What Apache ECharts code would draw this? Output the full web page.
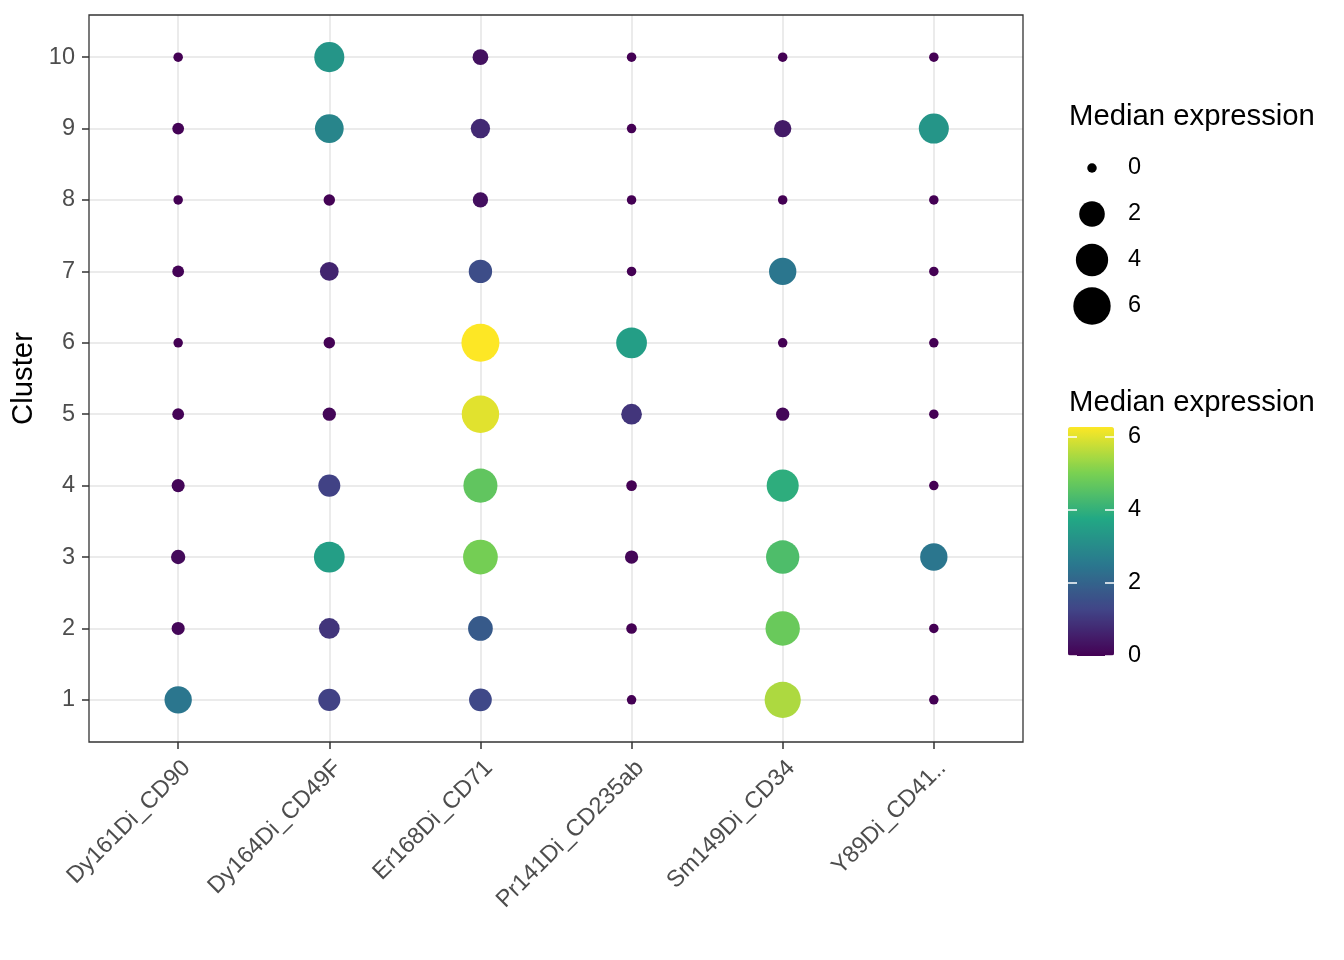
<!DOCTYPE html>
<html>
<head>
<meta charset="utf-8">
<script src="https://cdn.jsdelivr.net/npm/echarts@6/dist/echarts.min.js"></script>
<style>
html,body{margin:0;padding:0;background:#fff;}
#chart{width:1344px;height:960px;}
</style>
</head>
<body>
<div id="chart"></div>
<script>
// ---- data ----
const markers = ['Dy161Di_CD90', 'Dy164Di_CD49F', 'Er168Di_CD71', 'Pr141Di_CD235ab', 'Sm149Di_CD34', 'Y89Di_CD41..'];
const clusters = ['1', '2', '3', '4', '5', '6', '7', '8', '9', '10'];
// median expression per marker, clusters 1..10
const dy161 = [2.46, 0.10, 0.18, 0.10, 0.04, 0.00, 0.04, 0.00, 0.04, 0.00];
const dy164 = [1.21, 0.97, 3.49, 1.21, 0.11, 0.03, 0.66, 0.03, 2.86, 3.26];
const er168 = [1.35, 1.79, 4.93, 4.66, 6.00, 6.27, 1.48, 0.26, 0.75, 0.30];
const pr141 = [0.00, 0.01, 0.11, 0.01, 0.97, 3.49, 0.00, 0.00, 0.00, 0.00];
const sm149 = [5.50, 4.77, 4.39, 3.93, 0.11, 0.00, 2.46, 0.00, 0.47, 0.00];
const y89   = [0.00, 0.00, 2.46, 0.00, 0.00, 0.00, 0.00, 0.00, 3.26, 0.00];
const valueMax = 6.27;
const sizeBreaks = [0, 2, 4, 6];
const colorBreaks = [0, 2, 4, 6];
const viridisStops = ['#440154', '#414487', '#2A788E', '#22A884', '#7AD151', '#FDE725'];

const allSeries = [dy161, dy164, er168, pr141, sm149, y89];
const points = [];
allSeries.forEach((vals, i) => {
  vals.forEach((v, j) => points.push([i + 1, j + 1, v]));
});

const FONT = '"Liberation Sans", Arial, Helvetica, sans-serif';
const sizeOf = v => 9.5 + 28.5 * Math.sqrt(Math.max(v, 0) / valueMax);

const chart = echarts.init(document.getElementById('chart'), null, {renderer: 'canvas'});
chart.setOption({
  backgroundColor: '#ffffff',
  animation: false,
  textStyle: {fontFamily: FONT},
  grid: [
    {left: 89, top: 15, width: 934, height: 727, show: true, borderColor: '#333333', borderWidth: 1.3, backgroundColor: 'transparent', z: 3},
    {left: 1069, top: 145, width: 46, height: 184, show: false},
    {left: 1068, top: 427, width: 46, height: 229, show: false}
  ],
  xAxis: [
    {
      gridIndex: 0, type: 'value', min: 0.41, max: 6.59,
      axisLine: {show: false},
      axisTick: {show: true, length: 7, lineStyle: {color: '#333333', width: 1.5}, customValues: markers.map((m, i) => i + 1)},
      axisLabel: {
        customValues: markers.map((m, i) => i + 1),
        formatter: v => markers[Math.round(v) - 1] || '',
        rotate: 45, align: 'right', verticalAlign: 'top', margin: 14,
        color: '#4D4D4D', fontSize: 23.5, fontFamily: FONT
      },
      splitLine: {show: true, lineStyle: {color: '#EBEBEB', width: 2}}
    },
    {gridIndex: 1, type: 'category', data: ['k'], show: false},
    {gridIndex: 2, type: 'value', min: 0, max: 1, show: false}
  ],
  yAxis: [
    {
      gridIndex: 0, type: 'value', min: 0.41, max: 10.59,
      name: 'Cluster', nameLocation: 'middle', nameGap: 48, nameRotate: 90,
      nameTextStyle: {color: '#000000', fontSize: 29.3, fontFamily: FONT},
      axisLine: {show: false},
      axisTick: {show: true, length: 7, lineStyle: {color: '#333333', width: 1.5}, customValues: clusters.map((c, i) => i + 1)},
      axisLabel: {
        customValues: clusters.map((c, i) => i + 1),
        formatter: v => clusters[Math.round(v) - 1] || '',
        margin: 14, color: '#4D4D4D', fontSize: 23.5, fontFamily: FONT,
        padding: [2, 0, 0, 0]
      },
      splitLine: {show: true, lineStyle: {color: '#EBEBEB', width: 2}}
    },
    {
      gridIndex: 1, type: 'category', data: sizeBreaks.map(String), inverse: true, position: 'right',
      axisLine: {show: false}, axisTick: {show: false},
      axisLabel: {margin: 13, color: '#000000', fontSize: 23.5, fontFamily: FONT, align: 'left', padding: [2, 0, 0, 0]},
      splitLine: {show: false}
    },
    {
      gridIndex: 2, type: 'value', min: 0, max: valueMax, position: 'left', z: 10,
      axisLine: {show: false},
      axisTick: {show: true, inside: true, length: 9, lineStyle: {color: '#ffffff', width: 1.5}, customValues: colorBreaks},
      axisLabel: {show: false, customValues: colorBreaks},
      splitLine: {show: false}
    },
    {
      gridIndex: 2, type: 'value', min: 0, max: valueMax, position: 'right', z: 10,
      axisLine: {show: false},
      axisTick: {show: true, inside: true, length: 9, lineStyle: {color: '#ffffff', width: 1.5}, customValues: colorBreaks},
      axisLabel: {show: true, customValues: colorBreaks, margin: 14, color: '#000000', fontSize: 23.5, fontFamily: FONT, align: 'left', padding: [5, 0, 0, 0]},
      splitLine: {show: false}
    }
  ],
  visualMap: {
    type: 'continuous', min: 0, max: valueMax, dimension: 2, seriesIndex: 0,
    calculable: false, orient: 'vertical',
    left: 1068, top: 427, itemWidth: 46, itemHeight: 229, padding: 0,
    inRange: {color: viridisStops},
    textStyle: {color: 'transparent'},
    hoverLink: false
  },
  graphic: [
    {type: 'text', left: 1069, top: 102, style: {text: 'Median expression', fill: '#000000', font: '29.3px ' + FONT}},
    {type: 'text', left: 1069, top: 388, style: {text: 'Median expression', fill: '#000000', font: '29.3px ' + FONT}}
  ],
  series: [
    {
      type: 'scatter', xAxisIndex: 0, yAxisIndex: 0,
      data: points,
      symbol: 'circle',
      symbolSize: val => sizeOf(val[2]),
      itemStyle: {opacity: 1},
      z: 2
    },
    {
      type: 'scatter', xAxisIndex: 1, yAxisIndex: 1,
      data: sizeBreaks.map(v => ['k', String(v), v]),
      symbol: 'circle',
      symbolSize: val => sizeOf(val[2]),
      itemStyle: {color: '#000000', opacity: 1}
    }
  ]
});
</script>
</body>
</html>
